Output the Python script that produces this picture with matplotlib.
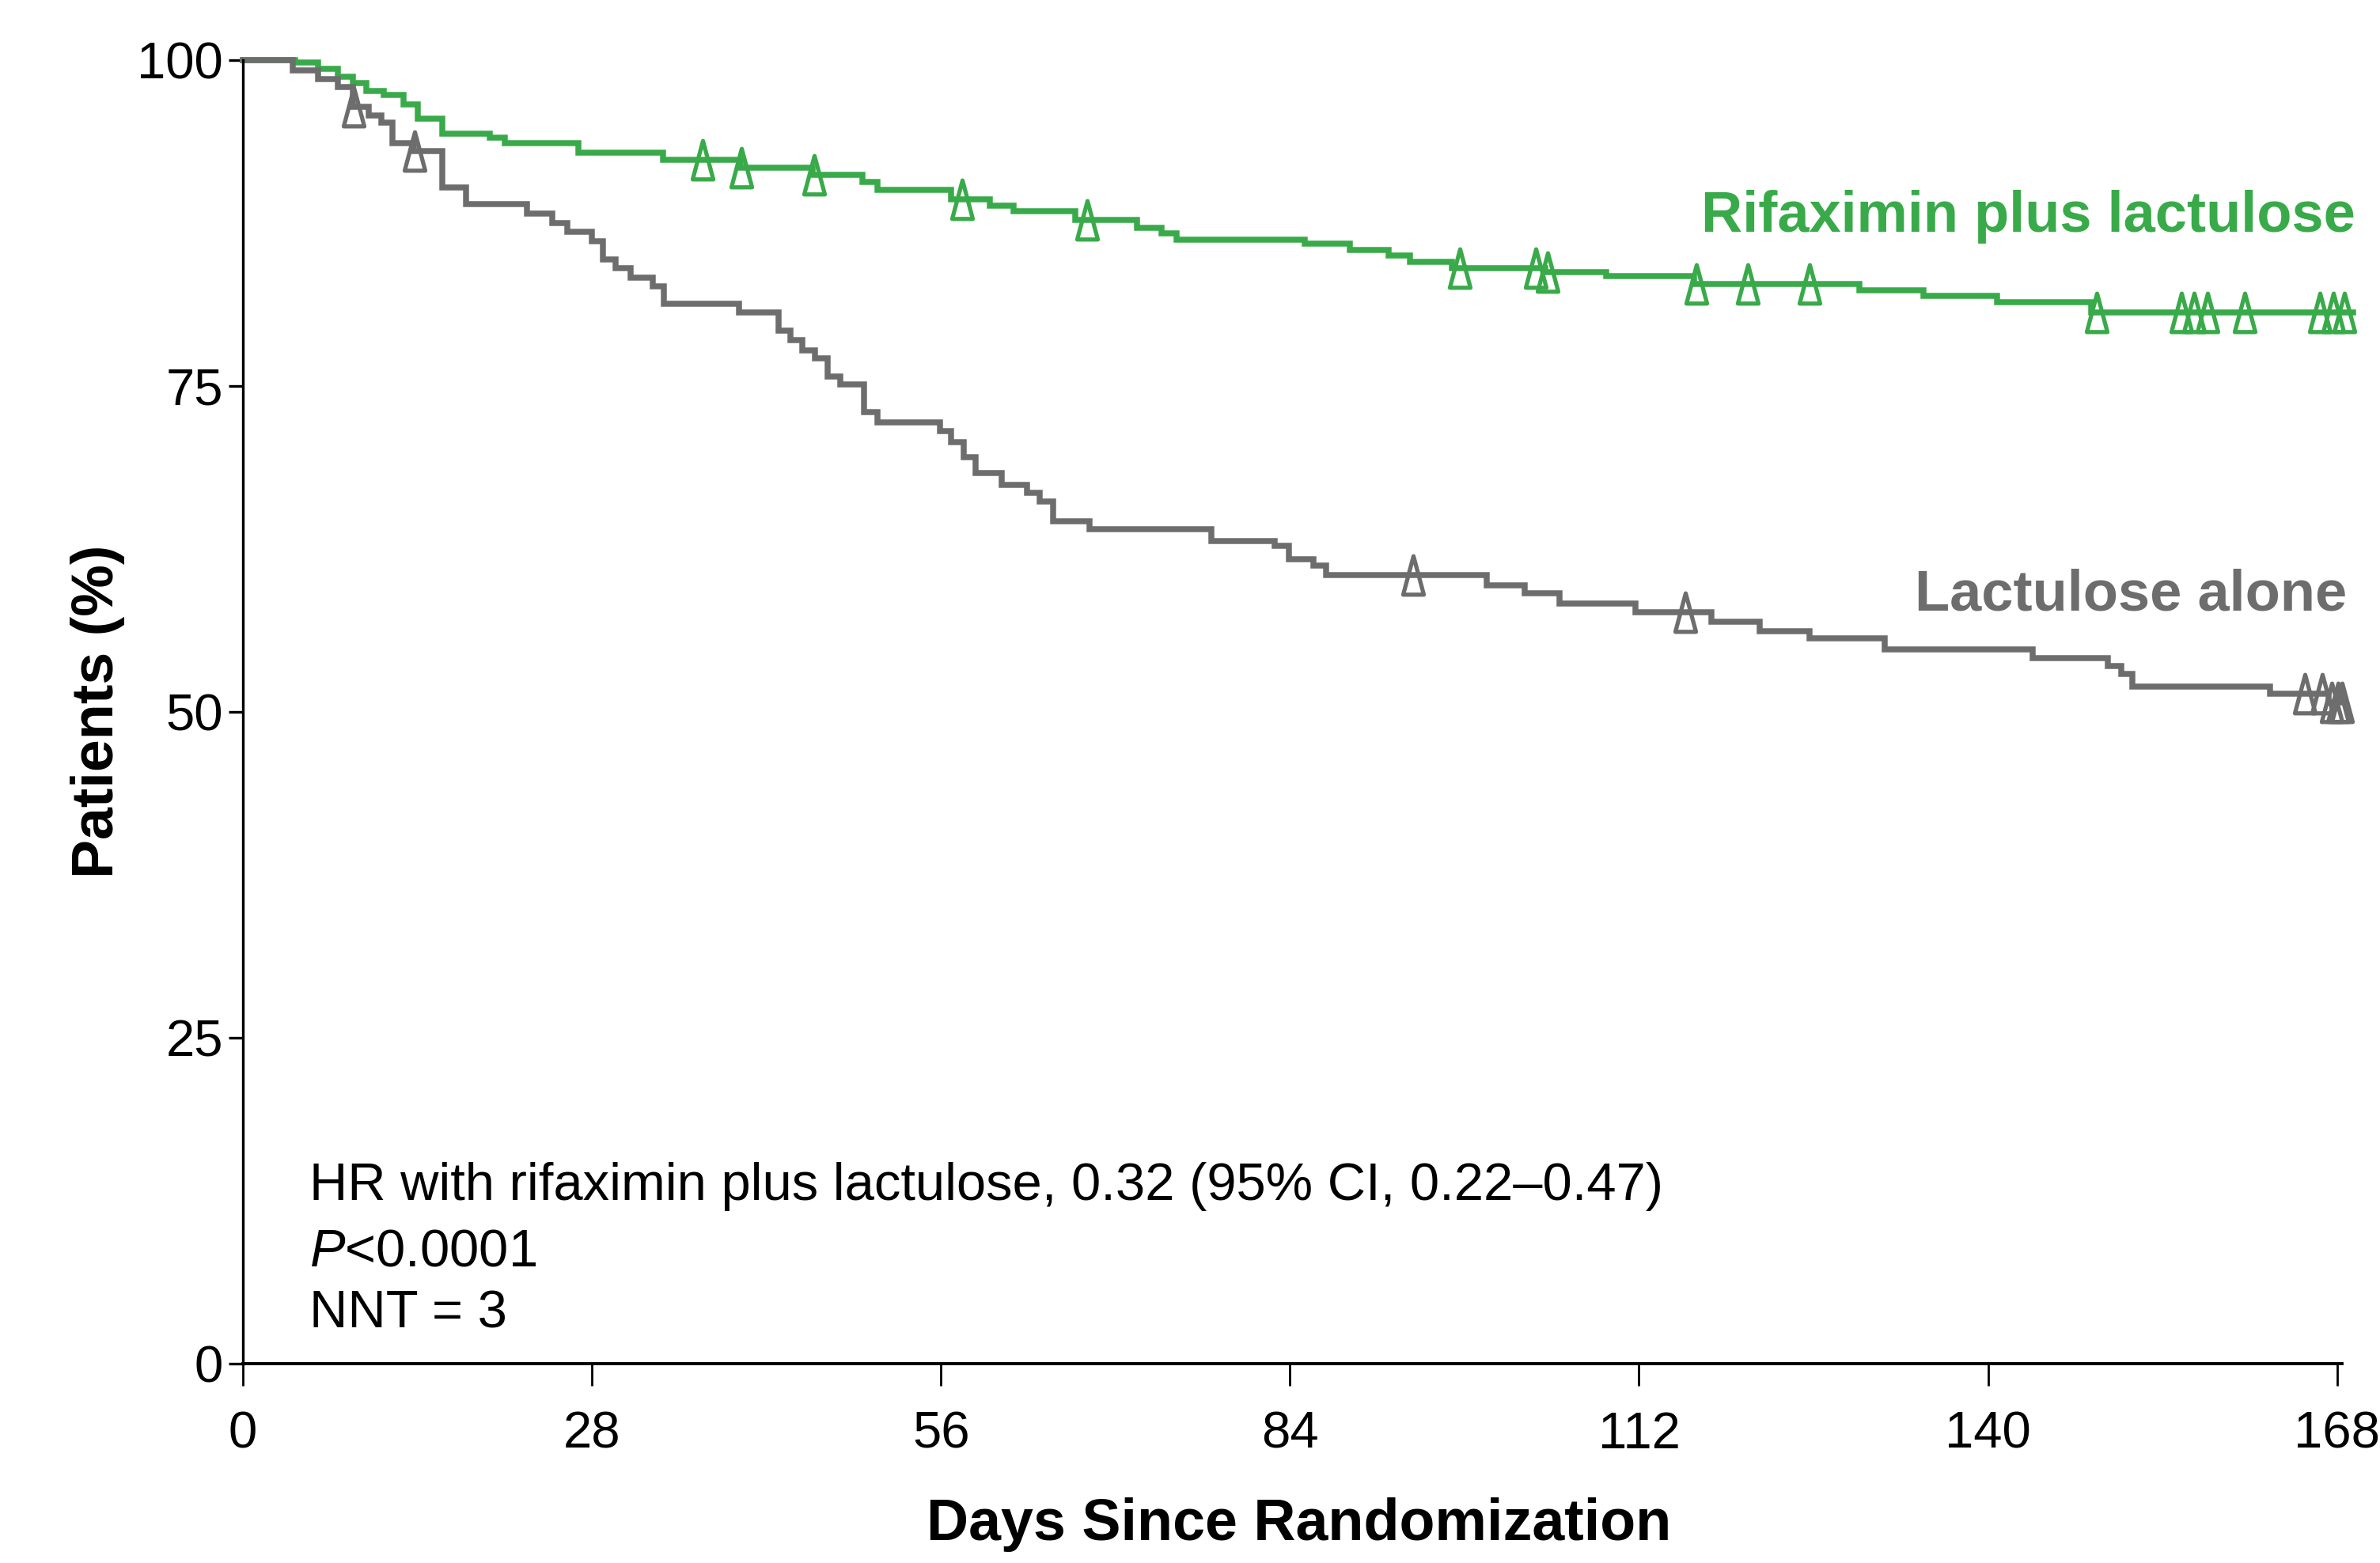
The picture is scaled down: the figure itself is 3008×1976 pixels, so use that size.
import numpy as np
import matplotlib
matplotlib.use('Agg')
import matplotlib.pyplot as plt
from matplotlib.path import Path

# ---------------- data ----------------
rif_times = [0, 4.2, 6.0, 7.6, 8.8, 9.9, 11.3, 12.9, 14.0, 16.0, 19.8, 21.0, 26.9,
             33.7, 39.9, 45.7, 49.7, 50.9, 56.8, 59.9, 61.8, 66.8, 71.7, 73.7,
             74.9, 85.2, 88.8, 91.9, 93.6, 97.0, 104.5, 109.4, 116.4, 129.7,
             134.8, 140.7, 148.3, 169.3]
rif_surv = [100, 99.8, 99.3, 98.7, 98.2, 97.6, 97.3, 96.6, 95.5, 94.3, 94.0, 93.6, 92.9,
            92.3, 91.7, 91.2, 90.6, 90.0, 89.3, 88.8, 88.4, 87.7, 87.1, 86.7,
            86.2, 85.9, 85.4, 85.0, 84.5, 84.0, 83.7, 83.4, 82.8, 82.3,
            81.9, 81.4, 80.6, 80.6]
rif_censor = [36.9, 40.0, 45.8, 57.7, 67.7, 97.6, 103.7, 104.7, 116.6, 120.7,
              125.7, 148.7, 155.5, 156.5, 157.6, 160.6, 166.6, 167.7, 168.6]

lac_times = [0, 4.0, 6.0, 7.6, 8.8, 10.1, 11.1, 12.0, 13.7, 16.0, 17.9, 22.8, 24.8,
             26.0, 28.0, 28.9, 29.9, 31.1, 32.9, 33.8, 39.8, 43.0, 43.9, 44.9,
             45.9, 46.9, 47.9, 49.8, 50.9, 55.9, 56.8, 57.8, 58.8, 60.9, 62.9,
             63.9, 65.0, 67.9, 77.7, 82.8, 83.9, 85.9, 86.9, 99.8, 102.8, 105.6,
             111.7, 117.8, 121.7, 125.7, 131.7, 143.6, 149.6, 150.7, 151.6,
             162.6, 167.3, 168.6]
lac_surv = [100, 99.2, 98.5, 97.9, 96.4, 95.7, 95.2, 93.6, 93.0, 90.2, 88.9, 88.2, 87.5,
            86.8, 86.1, 84.7, 84.0, 83.3, 82.6, 81.3, 80.6, 79.2, 78.5, 77.7,
            77.1, 75.7, 75.1, 73.0, 72.2, 71.5, 70.7, 69.5, 68.3, 67.4, 66.8,
            66.1, 64.6, 64.0, 63.1, 62.7, 61.7, 61.2, 60.5, 59.7, 59.1, 58.3,
            57.6, 56.9, 56.2, 55.6, 54.8, 54.1, 53.5, 52.9, 51.9,
            51.4, 50.7, 50.7]
lac_censor = [8.9, 13.8, 93.9, 115.7, 165.4, 166.8, 167.6, 168.1, 168.4]

x_ticks = [0, 28, 56, 84, 112, 140, 168]
y_ticks = [0, 25, 50, 75, 100]

group_labels = ['Rifaximin plus lactulose', 'Lactulose alone']
annot_lines = ['HR with rifaximin plus lactulose, 0.32 (95% CI, 0.22\u20130.47)',
               r'$\mathit{P}$<0.0001',
               'NNT = 3']

GREEN = '#39AA49'
GRAY = '#6D6D6D'

plt.rcParams['font.family'] = ['Liberation Sans', 'DejaVu Sans']
plt.rcParams['mathtext.fontset'] = 'custom'
plt.rcParams['mathtext.rm'] = 'Liberation Sans'
plt.rcParams['mathtext.it'] = 'Liberation Sans:italic'

fig = plt.figure(figsize=(15.04, 9.88), dpi=200)
ax = fig.add_axes([0.10206, 0.12753, 0.98980 - 0.10206, 0.96179 - 0.12753])

# tall narrow open triangle for censor marks
tri = Path([(0, 1), (0.535, -1), (-0.535, -1), (0, 1)],
           [Path.MOVETO, Path.LINETO, Path.LINETO, Path.CLOSEPOLY])


def step_value(times, surv, t):
    i = np.searchsorted(times, t, side='right') - 1
    return surv[i]


for times, surv, cens, col in [(rif_times, rif_surv, rif_censor, GREEN),
                               (lac_times, lac_surv, lac_censor, GRAY)]:
    ax.step(times, surv, where='post', color=col, lw=2.7, clip_on=False,
            solid_joinstyle='miter')
    cy = [step_value(times, surv, t) for t in cens]
    ax.plot(cens, cy, linestyle='none', marker=tri, markersize=17.5,
            mfc='none', mec=col, mew=1.9, clip_on=False)

ax.set_xlim(0, 169.5)
ax.set_ylim(0, 100)
ax.set_xticks(x_ticks)
ax.set_yticks(y_ticks)
ax.set_xticklabels([str(v) for v in x_ticks])
ax.set_yticklabels([str(v) for v in y_ticks])

for s in ['top', 'right']:
    ax.spines[s].set_visible(False)
ax.spines['left'].set_linewidth(1.2)
ax.spines['bottom'].set_linewidth(1.4)
ax.spines['left'].set_bounds(0, 100)
ax.spines['bottom'].set_bounds(0, 168.4)

ax.tick_params(axis='y', direction='out', length=6.5, width=1.2, pad=2.5,
               labelsize=23.5)
ax.tick_params(axis='x', direction='out', length=10, width=1.0, pad=11.5,
               labelsize=23.5)

ax.set_ylabel('Patients (%)', fontsize=26.5, fontweight='bold')
ax.yaxis.label.set_va('center')
ax.yaxis.set_label_coords(-0.0686, 0.5)
ax.set_xlabel('Days Since Randomization', fontsize=26.5, fontweight='bold')
ax.xaxis.label.set_va('center')
ax.xaxis.set_label_coords(0.5, -0.1237)

ax.text(169.5, 87.96, group_labels[0], color=GREEN, fontsize=26, fontweight='bold',
        ha='right', va='center')
ax.text(168.8, 58.96, group_labels[1], color=GRAY, fontsize=26, fontweight='bold',
        ha='right', va='center')

for yv, line in zip([13.59, 8.55, 3.82], annot_lines):
    ax.text(5.33, yv, line, fontsize=24.1, ha='left', va='center', color='black')

fig.savefig('out.png', dpi=200)
